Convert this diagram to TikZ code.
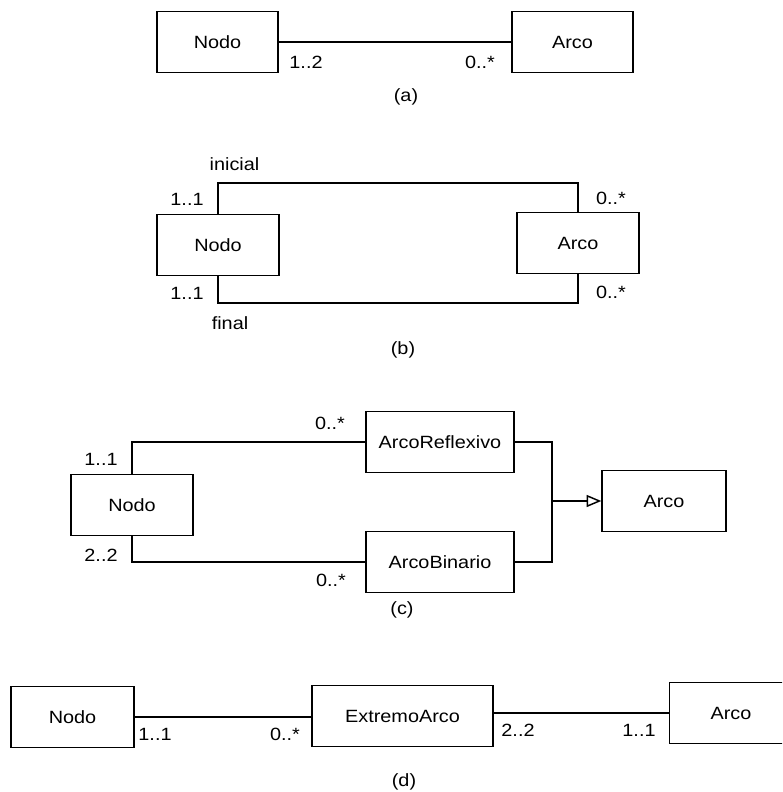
\documentclass[tikz,border=0pt]{standalone}
\usepackage{fontspec}
\setmainfont[FakeStretch=1.12]{Liberation Sans}
\usetikzlibrary{arrows.meta}
\begin{document}
\begin{tikzpicture}[x=0.75pt,y=-0.75pt,
  font=\fontsize{13.3pt}{15pt}\selectfont,
  cls/.style={draw, line width=1.1pt, inner sep=0pt, minimum height=46pt},
  lnk/.style={line width=1.1pt},
  mult/.style={inner sep=0pt, anchor=center},
  gen/.style={line width=1.1pt, -{Triangle[open, length=11pt, width=9pt, line width=1.1pt]}}]
\clip (0,0) rectangle (782,792);
\fill[white] (0,0) rectangle (782,792);

% (a) binary association
\node[cls, minimum width=91pt] (na) at (217.5,42) {Nodo};
\node[cls, minimum width=91pt] (aa) at (572.5,42) {Arco};
\draw[lnk] (na.east) -- (aa.west);
\node[mult] (ma1) at (306,62) {1..2};
\node[mult] (ma2) at (480,62) {0..*};
\node[mult] (capa) at (406,97) {(a)};

% (b) two roles between Nodo and Arco
\node[cls, minimum width=91.5pt] (nb) at (218,245) {Nodo};
\node[cls, minimum width=91.5pt] (ab) at (578,243) {Arco};
\coordinate (btop) at (400,183);
\coordinate (bbot) at (400,303);
\draw[lnk] (nb.north) |- (btop) -| (ab.north);
\draw[lnk] (nb.south) |- (bbot) -| (ab.south);
\node[mult] (rini) at (234.5,164) {inicial};
\node[mult] (mb1) at (187,199) {1..1};
\node[mult] (mb2) at (611,198) {0..*};
\node[mult] (mb3) at (187,293) {1..1};
\node[mult] (mb4) at (611,292) {0..*};
\node[mult] (rfin) at (230,323) {final};
\node[mult] (capb) at (403,350) {(b)};

% (c) specialised arcs
\node[cls, minimum width=91.5pt] (nc) at (132,505) {Nodo};
\node[cls, minimum width=111pt] (ar) at (440,442) {ArcoReflexivo};
\node[cls, minimum width=111pt] (abin) at (440,562) {ArcoBinario};
\node[cls, minimum width=93pt] (ac) at (664,501) {Arco};
\draw[lnk] (nc.north) |- (ar.west);
\draw[lnk] (nc.south) |- (abin.west);
\coordinate (cj) at (552,501);
\draw[lnk] (ar.east) -| (cj) |- (abin.east);
\draw[gen] (cj) -- (ac.west);
\node[mult] (mc1) at (330,423) {0..*};
\node[mult] (mc2) at (101,459) {1..1};
\node[mult] (mc3) at (101,555) {2..2};
\node[mult] (mc4) at (331,580) {0..*};
\node[mult] (capc) at (402,610) {(c)};

% (d) association class for arc ends
\node[cls, minimum width=92pt] (nd) at (72.5,717) {Nodo};
\node[cls, minimum width=136pt] (ed) at (402.5,716) {ExtremoArco};
\node[cls, minimum width=92pt] (ad) at (731,713) {Arco};
\draw[lnk] (nd.east) -- (nd.east -| ed.west);
\draw[lnk] (ed.east |- ad.west) -- (ad.west);
\node[mult] (md1) at (155,734) {1..1};
\node[mult] (md2) at (285,734) {0..*};
\node[mult] (md3) at (518,730) {2..2};
\node[mult] (md4) at (639,730) {1..1};
\node[mult] (capd) at (404,782) {(d)};
\end{tikzpicture}
\end{document}
